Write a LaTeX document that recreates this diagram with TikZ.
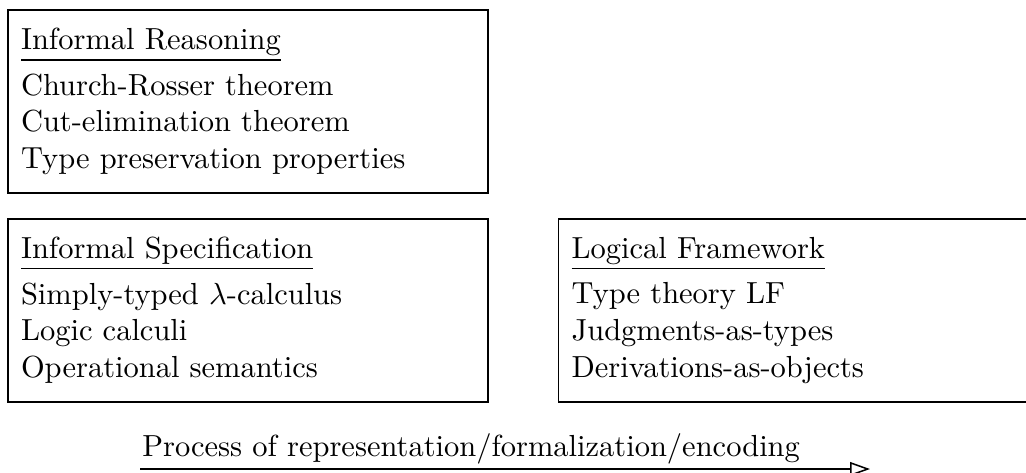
\documentclass[tikz,border=0pt]{standalone}
\usepackage{tikz}
\usetikzlibrary{arrows.meta, positioning}
\tikzstyle{infobox} = [
    rectangle, draw=black, line width=0.6pt,
    minimum width=157.4pt, minimum height=60pt,
    inner xsep=4.3pt, text width=148.8pt, align=left]
\tikzstyle{arrow} = [line width=0.5pt, -{Triangle[open, length=6.5pt, width=4.5pt]}]

\begin{document}
\begin{tikzpicture}[x=0.328pt, y=-0.328pt, node distance=7.9pt]
  \useasboundingbox (0,0) rectangle (1026,472);

  \node (reasoning) [infobox, anchor=north west] at (7,9)
      {\underline{Informal Reasoning}\\[3pt]
       Church-Rosser theorem\\
       Cut-elimination theorem\\
       Type preservation properties};
  \node (spec) [infobox, below=of reasoning]
      {\underline{Informal Specification}\\[3pt]
       Simply-typed $\lambda$-calculus\\
       Logic calculi\\
       Operational semantics};
  \node (framework) [infobox, right=22.6pt of spec]
      {\underline{Logical Framework}\\[3pt]
       Type theory LF\\
       Judgments-as-types\\
       Derivations-as-objects};

  \coordinate (pstart) at (140,469);
  \coordinate (pend) at (870,469);
  \draw [arrow] (pstart) -- node[above right, pos=0, inner xsep=0.5pt, inner ysep=1.5pt]
      {Process of representation/formalization/encoding} (pend);

\end{tikzpicture}
\end{document}
